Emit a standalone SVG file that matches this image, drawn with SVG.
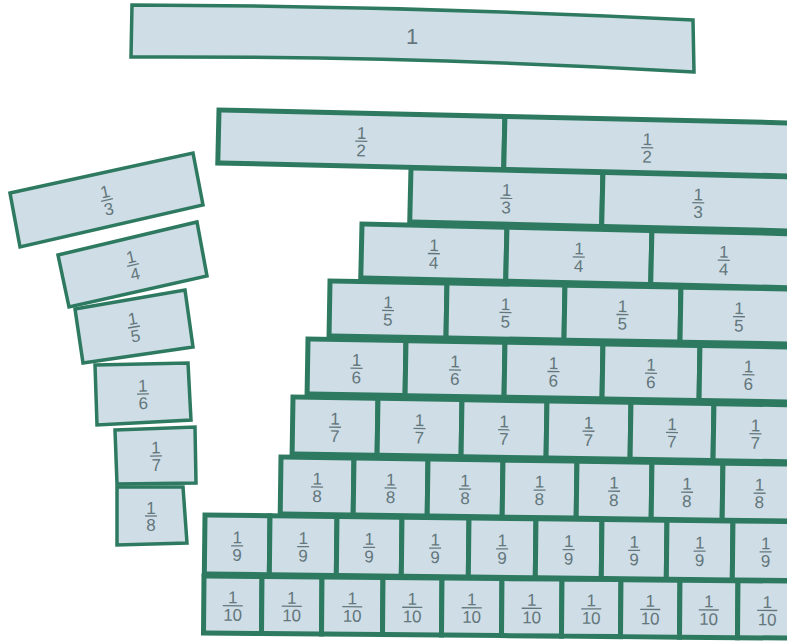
<svg xmlns="http://www.w3.org/2000/svg" xmlns:xlink="http://www.w3.org/1999/xlink" width="787" height="642" viewBox="0 0 787 642">
<style>
.cell{fill:#cfdde6;stroke:#2e7a60;stroke-width:5;stroke-linejoin:miter}
.piece{fill:#cfdde6;stroke:#2e7a60;stroke-width:3.5;stroke-linejoin:miter}
.whole{fill:#cfdde6;stroke:#2e7a60;stroke-width:3.5}
.t{font-family:"Liberation Sans","DejaVu Sans",sans-serif;font-size:17px;fill:#63777c;text-anchor:middle}
.bar{stroke:#63777c;stroke-width:1.3}
</style>
<defs>
<g id="f2"><text class="t" y="-2.5">1</text><line class="bar" x1="-6" x2="6"/><text class="t" y="15">2</text></g>
<g id="f3"><text class="t" y="-2.5">1</text><line class="bar" x1="-6" x2="6"/><text class="t" y="15">3</text></g>
<g id="f4"><text class="t" y="-2.5">1</text><line class="bar" x1="-6" x2="6"/><text class="t" y="15">4</text></g>
<g id="f5"><text class="t" y="-2.5">1</text><line class="bar" x1="-6" x2="6"/><text class="t" y="15">5</text></g>
<g id="f6"><text class="t" y="-2.5">1</text><line class="bar" x1="-6" x2="6"/><text class="t" y="15">6</text></g>
<g id="f7"><text class="t" y="-2.5">1</text><line class="bar" x1="-6" x2="6"/><text class="t" y="15">7</text></g>
<g id="f8"><text class="t" y="-2.5">1</text><line class="bar" x1="-6" x2="6"/><text class="t" y="15">8</text></g>
<g id="f9"><text class="t" y="-2.5">1</text><line class="bar" x1="-6" x2="6"/><text class="t" y="15">9</text></g>
<g id="f10"><text class="t" y="-2.5">1</text><line class="bar" x1="-10" x2="10"/><text class="t" y="15">10</text></g>
</defs>
<rect width="787" height="642" fill="#ffffff"/>

<g id="whole">
<path class="whole" d="M132,5 Q410,6 693,20 L694,72 Q420,56 131,57 Z"/>
<text class="t" x="412" y="44" style="font-size:22px">1</text>
</g>

<g id="row-halves" transform="translate(219,110) rotate(1.3)">
<rect class="cell" x="0" y="0" width="286" height="53"/>
<rect class="cell" x="286" y="0" width="286" height="53"/>
<use href="#f2" x="143" y="28"/><use href="#f2" x="429" y="28"/>
</g>

<g id="row-thirds" transform="translate(411,168) rotate(1.35)">
<rect class="cell" x="0" y="0" width="192" height="54"/>
<rect class="cell" x="192" y="0" width="192" height="54"/>
<use href="#f3" x="96" y="28"/><use href="#f3" x="288" y="28"/>
</g>

<g id="row-quarters" transform="translate(362,224) rotate(1.3)">
<rect class="cell" x="0" y="0" width="145" height="54"/>
<rect class="cell" x="145" y="0" width="145" height="54"/>
<rect class="cell" x="290" y="0" width="145" height="54"/>
<use href="#f4" x="72.5" y="28"/><use href="#f4" x="217.5" y="28"/><use href="#f4" x="362.5" y="28"/>
</g>

<g id="row-fifths" transform="translate(330,281) rotate(1.0)">
<rect class="cell" x="0" y="0" width="117" height="55"/>
<rect class="cell" x="117" y="0" width="118" height="55"/>
<rect class="cell" x="235" y="0" width="116" height="55"/>
<rect class="cell" x="351" y="0" width="117" height="55"/>
<use href="#f5" x="58.5" y="28.5"/><use href="#f5" x="176" y="28.5"/><use href="#f5" x="293" y="28.5"/><use href="#f5" x="409.5" y="28.5"/>
</g>

<g id="row-sixths" transform="translate(308,339) rotate(0.95)">
<rect class="cell" x="0" y="0" width="98" height="55"/>
<rect class="cell" x="98" y="0" width="99" height="55"/>
<rect class="cell" x="197" y="0" width="98" height="55"/>
<rect class="cell" x="295" y="0" width="97" height="55"/>
<rect class="cell" x="392" y="0" width="98" height="55"/>
<use href="#f6" x="49" y="28.5"/><use href="#f6" x="147.5" y="28.5"/><use href="#f6" x="246" y="28.5"/><use href="#f6" x="343.5" y="28.5"/><use href="#f6" x="441" y="28.5"/>
</g>

<g id="row-sevenths" transform="translate(293,397) rotate(0.9)">
<rect class="cell" x="0" y="0" width="85" height="57"/>
<rect class="cell" x="85" y="0" width="84" height="57"/>
<rect class="cell" x="169" y="0" width="85" height="57"/>
<rect class="cell" x="254" y="0" width="84" height="57"/>
<rect class="cell" x="338" y="0" width="83" height="57"/>
<rect class="cell" x="421" y="0" width="84" height="57"/>
<use href="#f7" x="42.5" y="29.5"/><use href="#f7" x="127" y="29.5"/><use href="#f7" x="211.5" y="29.5"/><use href="#f7" x="296" y="29.5"/><use href="#f7" x="379.5" y="29.5"/><use href="#f7" x="463" y="29.5"/>
</g>

<g id="row-eighths" transform="translate(281,457) rotate(0.8)">
<rect class="cell" x="0" y="0" width="73" height="57"/>
<rect class="cell" x="73" y="0" width="74" height="57"/>
<rect class="cell" x="147" y="0" width="75" height="57"/>
<rect class="cell" x="222" y="0" width="74" height="57"/>
<rect class="cell" x="296" y="0" width="75" height="57"/>
<rect class="cell" x="371" y="0" width="71" height="57"/>
<rect class="cell" x="442" y="0" width="74" height="57"/>
<use href="#f8" x="36.5" y="29.5"/><use href="#f8" x="110" y="29.5"/><use href="#f8" x="184.5" y="29.5"/><use href="#f8" x="259" y="29.5"/><use href="#f8" x="333.5" y="29.5"/><use href="#f8" x="406.5" y="29.5"/><use href="#f8" x="479" y="29.5"/>
</g>

<g id="row-ninths" transform="translate(205,515) rotate(0.65)">
<rect class="cell" x="0" y="0" width="65" height="59"/>
<rect class="cell" x="65" y="0" width="67" height="59"/>
<rect class="cell" x="132" y="0" width="65" height="59"/>
<rect class="cell" x="197" y="0" width="67" height="59"/>
<rect class="cell" x="264" y="0" width="67" height="59"/>
<rect class="cell" x="331" y="0" width="66" height="59"/>
<rect class="cell" x="397" y="0" width="65" height="59"/>
<rect class="cell" x="462" y="0" width="66" height="59"/>
<rect class="cell" x="528" y="0" width="66" height="59"/>
<use href="#f9" x="32.5" y="30.5"/><use href="#f9" x="98.5" y="30.5"/><use href="#f9" x="164.5" y="30.5"/><use href="#f9" x="230.5" y="30.5"/><use href="#f9" x="297.5" y="30.5"/><use href="#f9" x="364" y="30.5"/><use href="#f9" x="429.5" y="30.5"/><use href="#f9" x="495" y="30.5"/><use href="#f9" x="561" y="30.5"/>
</g>

<g id="row-tenths" transform="translate(204,576) rotate(0.5)">
<rect class="cell" x="0" y="0" width="58" height="57"/>
<rect class="cell" x="58" y="0" width="60" height="57"/>
<rect class="cell" x="118" y="0" width="61" height="57"/>
<rect class="cell" x="179" y="0" width="59" height="57"/>
<rect class="cell" x="238" y="0" width="60" height="57"/>
<rect class="cell" x="298" y="0" width="60" height="57"/>
<rect class="cell" x="358" y="0" width="59" height="57"/>
<rect class="cell" x="417" y="0" width="59" height="57"/>
<rect class="cell" x="476" y="0" width="58" height="57"/>
<rect class="cell" x="534" y="0" width="59" height="57"/>
<use href="#f10" x="29" y="29.5"/><use href="#f10" x="88" y="29.5"/><use href="#f10" x="148.5" y="29.5"/><use href="#f10" x="208.5" y="29.5"/><use href="#f10" x="268" y="29.5"/><use href="#f10" x="328" y="29.5"/><use href="#f10" x="387.5" y="29.5"/><use href="#f10" x="446.5" y="29.5"/><use href="#f10" x="505" y="29.5"/><use href="#f10" x="563.5" y="29.5"/>
</g>

<g id="piece-third">
<polygon class="piece" points="10,193 193,153 203,205 20,247"/>
<use href="#f3" transform="translate(107,200) rotate(-12.5)"/>
</g>
<g id="piece-quarter">
<polygon class="piece" points="58,255 197,222 207,276 69,307"/>
<use href="#f4" transform="translate(133,265) rotate(-13)"/>
</g>
<g id="piece-fifth">
<polygon class="piece" points="75,309 185,290 193,347 83,363"/>
<use href="#f5" transform="translate(134,327) rotate(-9.5)"/>
</g>
<g id="piece-sixth">
<polygon class="piece" points="95,365 188,363 191,420 97,425"/>
<use href="#f6" transform="translate(143,394) rotate(-2)"/>
</g>
<g id="piece-seventh">
<polygon class="piece" points="115,430 195,427 196,483 117,484"/>
<use href="#f7" transform="translate(156,456) rotate(-1.5)"/>
</g>
<g id="piece-eighth">
<polygon class="piece" points="117,487 183,487 187,543 117,545"/>
<use href="#f8" transform="translate(151,516)"/>
</g>
</svg>
